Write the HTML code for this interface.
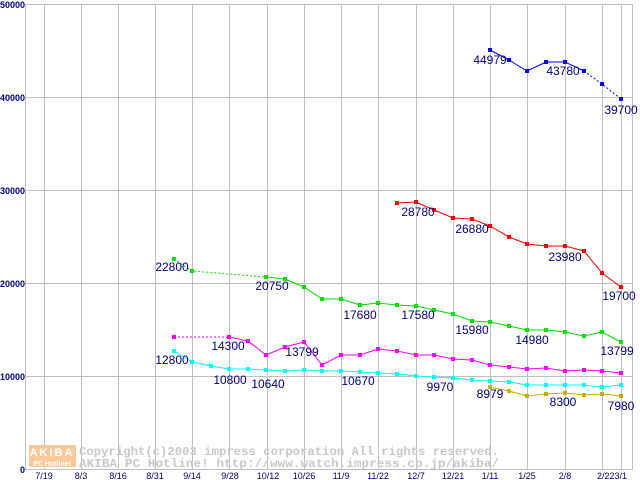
<!DOCTYPE html>
<html><head><style>body{margin:0;background:#fff}svg{display:block}</style></head><body>
<svg width="640" height="480" xmlns="http://www.w3.org/2000/svg" font-family="Liberation Sans, sans-serif">
<defs>
<marker id="mb" markerWidth="4" markerHeight="4" refX="2" refY="2" markerUnits="userSpaceOnUse"><rect width="4" height="4" fill="#0000ff"/></marker>
<marker id="mr" markerWidth="4" markerHeight="4" refX="2" refY="2" markerUnits="userSpaceOnUse"><rect width="4" height="4" fill="#ff0000"/></marker>
<marker id="mg" markerWidth="4" markerHeight="4" refX="2" refY="2" markerUnits="userSpaceOnUse"><rect width="4" height="4" fill="#00e000"/></marker>
<marker id="mm" markerWidth="4" markerHeight="4" refX="2" refY="2" markerUnits="userSpaceOnUse"><rect width="4" height="4" fill="#ff00ff"/></marker>
<marker id="mc" markerWidth="4" markerHeight="4" refX="2" refY="2" markerUnits="userSpaceOnUse"><rect width="4" height="4" fill="#00ffff"/></marker>
<marker id="mo" markerWidth="4" markerHeight="4" refX="2" refY="2" markerUnits="userSpaceOnUse"><rect width="4" height="4" fill="#c0b000"/></marker>
</defs>
<rect width="640" height="480" fill="#fff"/>
<g stroke="#c0c0c0" stroke-width="1">
<line x1="25" y1="4.5" x2="632" y2="4.5"/><line x1="25" y1="97.5" x2="632" y2="97.5"/><line x1="25" y1="190.5" x2="632" y2="190.5"/><line x1="25" y1="283.5" x2="632" y2="283.5"/><line x1="25" y1="376.5" x2="632" y2="376.5"/><line x1="25" y1="469.5" x2="632" y2="469.5"/>
<line x1="25.5" y1="4" x2="25.5" y2="470"/><line x1="632.5" y1="4" x2="632.5" y2="470"/>
<line x1="44.5" y1="4" x2="44.5" y2="470"/><line x1="81.5" y1="4" x2="81.5" y2="470"/><line x1="118.5" y1="4" x2="118.5" y2="470"/><line x1="155.5" y1="4" x2="155.5" y2="470"/><line x1="192.5" y1="4" x2="192.5" y2="470"/><line x1="229.5" y1="4" x2="229.5" y2="470"/><line x1="267.5" y1="4" x2="267.5" y2="470"/><line x1="304.5" y1="4" x2="304.5" y2="470"/><line x1="341.5" y1="4" x2="341.5" y2="470"/><line x1="378.5" y1="4" x2="378.5" y2="470"/><line x1="416.5" y1="4" x2="416.5" y2="470"/><line x1="453.5" y1="4" x2="453.5" y2="470"/><line x1="490.5" y1="4" x2="490.5" y2="470"/><line x1="527.5" y1="4" x2="527.5" y2="470"/><line x1="565.5" y1="4" x2="565.5" y2="470"/><line x1="602.5" y1="4" x2="602.5" y2="470"/><line x1="621.5" y1="4" x2="621.5" y2="470"/>
</g>
<g font-size="9" font-weight="bold" fill="#000080" text-anchor="end">
<text x="25" y="8">50000</text><text x="25" y="101">40000</text><text x="25" y="194">30000</text><text x="25" y="287">20000</text><text x="25" y="380">10000</text><text x="25" y="473">0</text>
</g>
<g font-size="9" fill="#000080" text-anchor="middle">
<text x="44" y="479">7/19</text><text x="81" y="479">8/3</text><text x="118" y="479">8/16</text><text x="155" y="479">8/31</text><text x="192" y="479">9/14</text><text x="230" y="479">9/28</text><text x="268" y="479">10/12</text><text x="304" y="479">10/26</text><text x="341" y="479">11/9</text><text x="378" y="479">11/22</text><text x="416" y="479">12/7</text><text x="453" y="479">12/21</text><text x="490" y="479">1/11</text><text x="527" y="479">1/25</text><text x="565" y="479">2/8</text><text x="612" y="479">2/223/1</text>
</g>
<rect x="29" y="445" width="47" height="22" fill="#fbc89a"/>
<text x="52" y="456" font-size="11" font-weight="bold" fill="#fff" text-anchor="middle" letter-spacing="2">AKIBA</text>
<text x="52" y="466" font-size="7" font-weight="bold" fill="#fff" text-anchor="middle">PC Hotline!</text>
<g font-family="Liberation Mono, monospace" font-size="12" font-weight="bold" fill="#c8c8c8">
<text x="79" y="455" textLength="420" lengthAdjust="spacingAndGlyphs">Copyright(c)2003 impress corporation All rights reserved.</text>
<text x="79" y="467" textLength="420" lengthAdjust="spacingAndGlyphs">AKIBA PC Hotline!  http://www.watch.impress.co.jp/akiba/</text>
</g>
<g fill="none" stroke-width="1">
<polyline stroke="#0000ff" marker-start="url(#mb)" marker-mid="url(#mb)" marker-end="url(#mb)" points="490,50 509,60 527,71 546,62 565,62 584,71"/>
<polyline stroke="#0000ff" stroke-dasharray="2,2" marker-mid="url(#mb)" marker-end="url(#mb)" points="584,71 602,84 621,99"/>
<polyline stroke="#ff0000" marker-start="url(#mr)" marker-mid="url(#mr)" marker-end="url(#mr)" points="397,203 416,202 434,210 453,218 472,219 490,226 509,237 527,244 546,246 565,246 584,251 602,273 621,287"/>
<polyline stroke="#00e000" stroke-dasharray="2,2" marker-start="url(#mg)" marker-mid="url(#mg)" points="174,259 192,271 266,277"/>
<polyline stroke="#00e000" marker-start="url(#mg)" marker-mid="url(#mg)" marker-end="url(#mg)" points="266,277 285,279 304,287 322,299 341,299 360,305 378,303 397,305 416,306 434,310 453,314 472,321 490,322 509,326 527,330 546,330 565,332 584,336 602,332 621,342"/>
<polyline stroke="#ff00ff" stroke-dasharray="2,2" marker-start="url(#mm)" points="174,337 229,337"/>
<polyline stroke="#ff00ff" marker-start="url(#mm)" marker-mid="url(#mm)" marker-end="url(#mm)" points="229,337 248,341 266,355 285,347 304,342 322,365 341,355 360,355 378,349 397,351 416,355 434,355 453,359 472,360 490,365 509,367 527,369 546,368 565,371 584,370 602,371 621,373"/>
<polyline stroke="#00ffff" marker-start="url(#mc)" marker-mid="url(#mc)" marker-end="url(#mc)" points="174,351 192,362 211,366 229,369 248,369 266,370 285,371 304,370 322,371 341,371 360,372 378,373 397,374 416,376 434,377 453,378 472,380 490,381 509,382 527,385 546,385 565,385 584,385 602,387 621,385"/>
<polyline stroke="#c0b000" marker-start="url(#mo)" marker-mid="url(#mo)" marker-end="url(#mo)" points="490,387 509,391 527,396 546,394 565,393 584,395 602,394 621,396"/>
</g>
<g font-size="12" fill="#000080" text-anchor="middle">
<text x="490" y="64">44979</text><text x="563" y="75">43780</text><text x="621" y="114">39700</text>
<text x="418" y="216">28780</text><text x="472" y="233">26880</text><text x="565" y="261">23980</text><text x="619" y="300">19700</text>
<text x="172" y="271">22800</text><text x="272" y="290">20750</text><text x="360" y="319">17680</text><text x="418" y="319">17580</text><text x="472" y="334">15980</text><text x="532" y="344">14980</text><text x="617" y="355">13799</text>
<text x="228" y="350">14300</text><text x="302" y="356">13799</text>
<text x="172" y="364">12800</text><text x="230" y="384">10800</text><text x="268" y="388">10640</text><text x="358" y="385">10670</text><text x="440" y="391">9970</text><text x="490" y="398">8979</text>
<text x="563" y="406">8300</text><text x="621" y="410">7980</text>
</g>
</svg>
</body></html>
